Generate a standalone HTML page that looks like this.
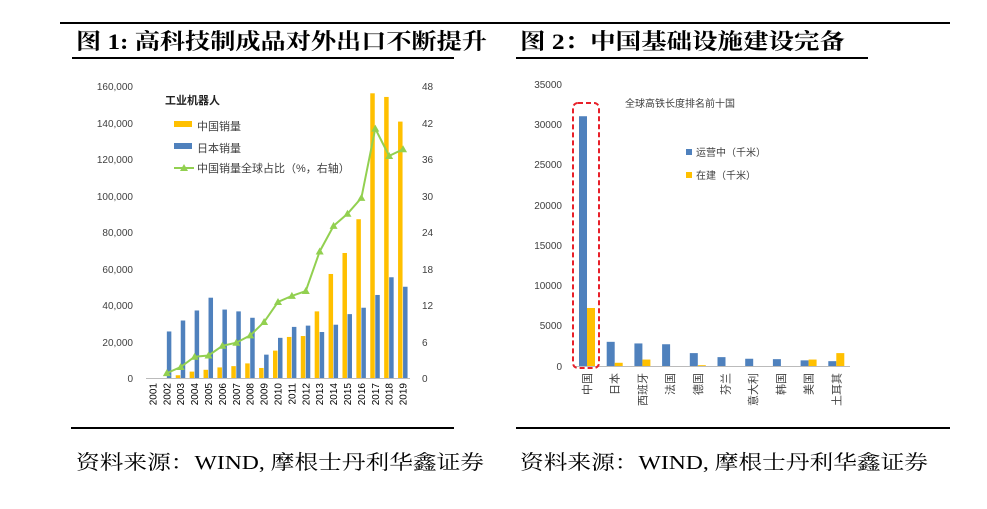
<!DOCTYPE html>
<html><head><meta charset="utf-8"><style>
html,body{margin:0;padding:0;background:#fff;}
svg{display:block;}
</style></head><body>
<svg width="987" height="509" viewBox="0 0 987 509" xmlns="http://www.w3.org/2000/svg" font-family="Liberation Sans, Noto Sans CJK SC, sans-serif">
<rect width="987" height="509" fill="#fff"/>
<!-- frame lines -->
<line x1="60" y1="23" x2="950" y2="23" stroke="#000" stroke-width="2"/>
<line x1="72" y1="58" x2="454" y2="58" stroke="#000" stroke-width="2"/>
<line x1="516" y1="58" x2="868" y2="58" stroke="#000" stroke-width="2"/>
<line x1="71" y1="428" x2="454" y2="428" stroke="#000" stroke-width="2"/>
<line x1="516" y1="428" x2="950" y2="428" stroke="#000" stroke-width="2"/>
<text x="76" y="49" font-family="Liberation Serif, Noto Serif CJK SC, serif" font-weight="bold" font-size="22" textLength="411" lengthAdjust="spacingAndGlyphs">图 1: 高科技制成品对外出口不断提升</text>
<text x="520" y="49" font-family="Liberation Serif, Noto Serif CJK SC, serif" font-weight="bold" font-size="22" textLength="325" lengthAdjust="spacingAndGlyphs">图 2：中国基础设施建设完备</text>
<text x="76" y="469" font-family="Liberation Serif, Noto Serif CJK SC, serif" font-size="20" textLength="408" lengthAdjust="spacingAndGlyphs">资料来源：WIND, 摩根士丹利华鑫证券</text>
<text x="520" y="469" font-family="Liberation Serif, Noto Serif CJK SC, serif" font-size="20" textLength="408" lengthAdjust="spacingAndGlyphs">资料来源：WIND, 摩根士丹利华鑫证券</text>

<!-- Chart 1 -->
<g font-size="10" fill="#404040">
<text x="133" y="90" text-anchor="end">160,000</text>
<text x="133" y="127" text-anchor="end">140,000</text>
<text x="133" y="163" text-anchor="end">120,000</text>
<text x="133" y="200" text-anchor="end">100,000</text>
<text x="133" y="236" text-anchor="end">80,000</text>
<text x="133" y="273" text-anchor="end">60,000</text>
<text x="133" y="309" text-anchor="end">40,000</text>
<text x="133" y="346" text-anchor="end">20,000</text>
<text x="133" y="382" text-anchor="end">0</text>
<text x="422" y="90">48</text>
<text x="422" y="127">42</text>
<text x="422" y="163">36</text>
<text x="422" y="200">30</text>
<text x="422" y="236">24</text>
<text x="422" y="273">18</text>
<text x="422" y="309">12</text>
<text x="422" y="346">6</text>
<text x="422" y="382">0</text>
</g>
<line x1="146" y1="378.5" x2="410" y2="378.5" stroke="#bbb" stroke-width="1"/>
<g id="c1"></g>
<g font-size="11" fill="#222">
<text x="165" y="104" font-weight="bold">工业机器人</text>
<rect x="174" y="121" width="18" height="6" fill="#FFC000"/>
<text x="197" y="130" fill="#404040">中国销量</text>
<rect x="174" y="143" width="18" height="6" fill="#4F81BD"/>
<text x="197" y="152" fill="#404040">日本销量</text>
<line x1="174" y1="168" x2="194" y2="168" stroke="#92D050" stroke-width="2"/>
<polygon points="184,164 188,171 180,171" fill="#92D050"/>
<text x="197" y="172" fill="#404040">中国销量全球占比（%，右轴）</text>
</g>

<!-- Chart 2 -->
<g font-size="10" fill="#404040">
<text x="562" y="88" text-anchor="end">35000</text>
<text x="562" y="128" text-anchor="end">30000</text>
<text x="562" y="168" text-anchor="end">25000</text>
<text x="562" y="209" text-anchor="end">20000</text>
<text x="562" y="249" text-anchor="end">15000</text>
<text x="562" y="289" text-anchor="end">10000</text>
<text x="562" y="329" text-anchor="end">5000</text>
<text x="562" y="370" text-anchor="end">0</text>
</g>
<line x1="573" y1="366.5" x2="850" y2="366.5" stroke="#bbb" stroke-width="1"/>
<g id="c2"></g>
<rect x="573" y="103" width="26" height="265" rx="5" fill="none" stroke="#E8202A" stroke-width="2" stroke-dasharray="5,3"/>
<text x="680" y="107" font-size="10" fill="#404040" text-anchor="middle">全球高铁长度排名前十国</text>
<rect x="686" y="149" width="6" height="6" fill="#4F81BD"/>
<text x="696" y="156" font-size="10" fill="#404040">运营中（千米）</text>
<rect x="686" y="172" width="6" height="6" fill="#FFC000"/>
<text x="696" y="179" font-size="10" fill="#404040">在建（千米）</text>
</svg>
<script>
const NS="http://www.w3.org/2000/svg";
function el(p,t,a,txt){const e=document.createElementNS(NS,t);for(const k in a)e.setAttribute(k,a[k]);if(txt!==undefined)e.textContent=txt;p.appendChild(e);return e;}
const c1=document.getElementById('c1');
const d=[[2001,0,0,null],[2002,0,25500,0.8],[2003,1500,31500,1.8],[2004,3500,37000,3.5],[2005,4500,44000,3.7],[2006,5800,37500,5.3],[2007,6500,36500,5.8],[2008,8000,33000,7],[2009,5500,12800,9.2],[2010,15000,22000,12.5],[2011,22500,28000,13.5],[2012,23000,28700,14.3],[2013,36500,25200,20.8],[2014,57000,29200,25],[2015,68500,35000,27],[2016,87000,38500,29.6],[2017,156000,45500,41],[2018,154000,55200,36.5],[2019,140500,50000,37.6]];
const w=(410-146)/19;const Y=v=>378-v*292/160000;const YR=p=>378-p*292/48;
let pts=[];
d.forEach((r,i)=>{const c=146+w*(i+0.5);
 if(r[1]>0)el(c1,'rect',{x:c-5,y:Y(r[1]),width:4.5,height:378-Y(r[1]),fill:'#FFC000'});
 if(r[2]>0)el(c1,'rect',{x:c,y:Y(r[2]),width:4.5,height:378-Y(r[2]),fill:'#4F81BD'});
 if(r[3]!==null)pts.push([c,YR(r[3])]);
 el(c1,'text',{x:0,y:0,transform:`translate(${c+3.5},383) rotate(-90)`,'text-anchor':'end','font-size':'10',fill:'#000'},r[0]);
});
el(c1,'polyline',{points:pts.map(p=>p.join(',')).join(' '),fill:'none',stroke:'#92D050','stroke-width':2});
pts.forEach(p=>el(c1,'polygon',{points:`${p[0]},${p[1]-4} ${p[0]+4},${p[1]+3} ${p[0]-4},${p[1]+3}`,fill:'#92D050'}));
const c2=document.getElementById('c2');
const e=[['中国',31000,7200],['日本',3000,400],['西班牙',2800,800],['法国',2700,0],['德国',1600,100],['芬兰',1100,0],['意大利',900,0],['韩国',850,0],['美国',700,800],['土耳其',600,1600]];
const w2=27.7;const Y2=v=>366-v*282/35000;
e.forEach((r,i)=>{const x=573+i*w2;
 el(c2,'rect',{x:x+6,y:Y2(r[1]),width:8,height:366-Y2(r[1]),fill:'#4F81BD'});
 if(r[2]>0)el(c2,'rect',{x:x+14,y:Y2(r[2]),width:8,height:366-Y2(r[2]),fill:'#FFC000'});
 el(c2,'text',{x:0,y:0,transform:`translate(${x+18},373) rotate(-90)`,'text-anchor':'end','font-size':'11',fill:'#404040'},r[0]);
});
</script>
</body></html>
